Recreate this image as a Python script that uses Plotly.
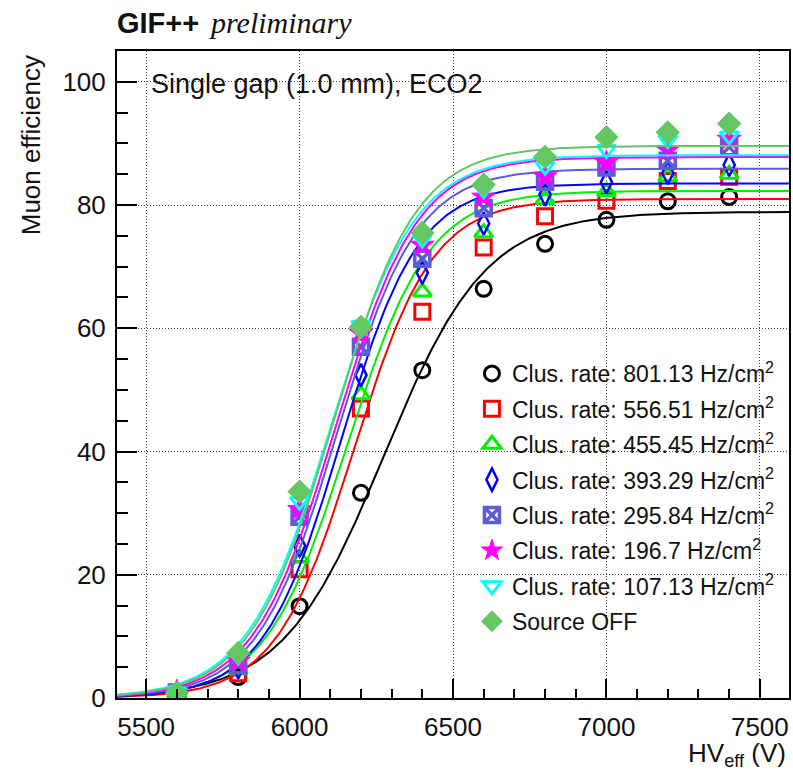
import numpy as np
import plotly.graph_objects as go

# ---------------- data ----------------
hv = [5600, 5800, 6000, 6200, 6400, 6600, 6800, 7000, 7200, 7400]

labels = [
    "Clus. rate: 801.13 Hz/cm<sup>2</sup>",
    "Clus. rate: 556.51 Hz/cm<sup>2</sup>",
    "Clus. rate: 455.45 Hz/cm<sup>2</sup>",
    "Clus. rate: 393.29 Hz/cm<sup>2</sup>",
    "Clus. rate: 295.84 Hz/cm<sup>2</sup>",
    "Clus. rate: 196.7 Hz/cm<sup>2</sup>",
    "Clus. rate: 107.13 Hz/cm<sup>2</sup>",
    "Source OFF",
]

eff_801 = [0.5, 3.4, 14.9, 33.3, 53.2, 66.4, 73.7, 77.6, 80.6, 81.3]
eff_556 = [0.7, 4.0, 20.9, 47.0, 62.7, 73.1, 78.2, 80.7, 83.9, 84.6]
eff_455 = [0.8, 4.6, 22.7, 49.2, 65.9, 75.5, 80.9, 82.2, 84.6, 85.0]
eff_393 = [0.8, 5.0, 24.7, 52.4, 69.0, 77.0, 81.7, 83.7, 85.2, 86.5]
eff_296 = [0.9, 5.3, 29.4, 57.0, 71.3, 79.5, 83.8, 86.1, 87.2, 89.4]
eff_197 = [1.0, 6.0, 30.6, 59.2, 73.5, 81.3, 84.6, 86.9, 88.9, 90.7]
eff_107 = [1.0, 6.8, 31.9, 60.5, 74.5, 82.5, 86.3, 89.0, 90.6, 91.2]
eff_off = [0.8, 7.3, 33.5, 60.2, 75.5, 83.3, 87.8, 91.0, 91.8, 93.2]

# sigmoid fit parameters: plateau, slope (1/V), HV at 50%
fit_emax = [78.9, 81.0, 82.3, 83.5, 85.9, 87.8, 88.1, 89.6]
fit_lambda = [0.00603, 0.0078, 0.0075, 0.0079, 0.0077, 0.0075, 0.0073, 0.0074]
fit_hv50 = [6276, 6178, 6156, 6135, 6122, 6117, 6102, 6110]

x_tick_vals = [5500, 6000, 6500, 7000, 7500]
y_tick_vals = [0, 20, 40, 60, 80, 100]

# ---------------- style ----------------
colors = ["#000000", "#ff0000", "#00ee00", "#0000ff", "#5c5cd6",
          "#ff00ff", "#00ffff", "#63c763"]
symbols = ["circle-open", "square-open", "triangle-up-open", "diamond-tall-open",
           "square-x-open", "star", "triangle-down-open", "diamond"]
sizes = [15, 15, 16, 16, 15, 18, 16, 18]
lwidths = [3, 3, 3, 2.5, 3.5, 1, 3, 1]

series = [eff_801, eff_556, eff_455, eff_393, eff_296, eff_197, eff_107, eff_off]

XR = [5405, 7595]
YR = [0, 105]

fig = go.Figure()
xf = np.linspace(XR[0], XR[1], 400)
for i, ys in enumerate(series):
    g = "g%d" % i
    fig.add_trace(go.Scatter(
        x=hv, y=ys, mode="markers", name=labels[i], legendgroup=g,
        marker=dict(symbol=symbols[i], size=sizes[i], color=colors[i],
                    line=dict(color=colors[i], width=lwidths[i])),
        showlegend=True))
    yf = fit_emax[i] / (1.0 + np.exp(-fit_lambda[i] * (xf - fit_hv50[i])))
    fig.add_trace(go.Scatter(
        x=xf, y=yf, mode="lines", legendgroup=g, showlegend=False,
        line=dict(color=colors[i], width=2), hoverinfo="skip"))

L, R, T, B = 117, 2, 51, 72
W, H = 793, 770
pw, ph = W - L - R, H - T - B


def px(xp):
    return (xp - L) / pw


def py(yp):
    return (H - B - yp) / ph


axis_common = dict(
    showline=True, linecolor="black", linewidth=2, mirror=True,
    ticks="inside", tickcolor="black", tickwidth=1.5,
    showgrid=True, gridcolor="#444444", gridwidth=1, griddash="1px,2px",
    zeroline=False,
    tickfont=dict(family="Liberation Sans, Arial, sans-serif", size=26, color="#111"),
)

fig.update_xaxes(range=XR, tickvals=x_tick_vals, ticklen=19,
                 minor=dict(dtick=100, tick0=5500, ticks="inside", ticklen=9,
                            tickcolor="black", tickwidth=1.5, showgrid=False),
                 ticklabelstandoff=5, **axis_common)
fig.update_yaxes(range=YR, tickvals=y_tick_vals, ticklen=20,
                 minor=dict(dtick=5, tick0=0, ticks="inside", ticklen=11,
                            tickcolor="black", tickwidth=1.5, showgrid=False),
                 ticklabelstandoff=4, **axis_common)

fig.update_layout(
    width=W, height=H,
    margin=dict(l=L, r=R, t=T, b=B),
    plot_bgcolor="white", paper_bgcolor="white",
    font=dict(family="Liberation Sans, Arial, sans-serif", color="#111"),
    legend=dict(x=px(473), y=py(352), xanchor="left", yanchor="top",
                bgcolor="rgba(0,0,0,0)", font=dict(size=23, color="#111"),
                traceorder="grouped", tracegroupgap=2.5, itemsizing="trace"),
    annotations=[
        dict(text="<b>GIF++</b>", x=px(115), y=py(41), xref="paper", yref="paper",
             xanchor="left", yanchor="bottom", showarrow=False,
             font=dict(family="Liberation Sans, Arial", size=29, color="#111")),
        dict(text="<i>preliminary</i>", x=px(207), y=py(41), xref="paper", yref="paper",
             xanchor="left", yanchor="bottom", showarrow=False,
             font=dict(family="Liberation Serif, Times New Roman, serif", size=30, color="#111")),
        dict(text="Single gap (1.0 mm), ECO2", x=px(149), y=py(84), xref="paper", yref="paper",
             xanchor="left", yanchor="middle", showarrow=False,
             font=dict(size=27, color="#111")),
        dict(text="Muon efficiency", x=px(31), y=py(53), xref="paper", yref="paper",
             xanchor="center", yanchor="top", textangle=-90, showarrow=False,
             font=dict(size=26, color="#111")),
        dict(text="HV<sub>eff</sub> (V)", x=px(790), y=py(754), xref="paper", yref="paper",
             xanchor="right", yanchor="middle", showarrow=False,
             font=dict(size=26, color="#111")),
    ],
)

fig.write_html("out.html")
